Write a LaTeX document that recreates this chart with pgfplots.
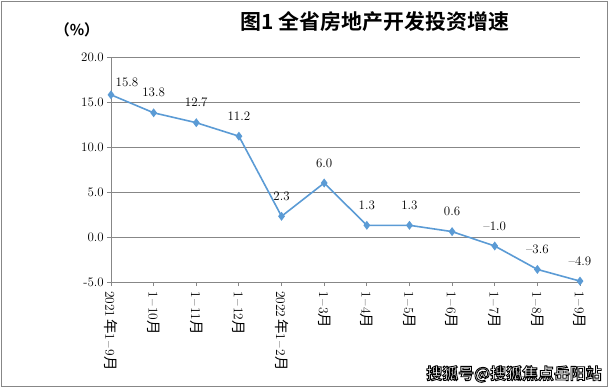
\documentclass[border=0pt]{standalone}
\usepackage{fontspec}
\usepackage{pgfplots}
\pgfplotsset{compat=1.18}
\usepackage{pgfplotstable}
\newfontfamily\cjk{Noto Sans CJK SC}
\newfontfamily\cjkbold{Noto Sans CJK SC Bold}
\definecolor{lineblue}{HTML}{5B9BD5}
\definecolor{gridc}{HTML}{878787}
\newcommand{\yue}{{\cjk\fontsize{14.5}{14.5}\selectfont 月}}
\newcommand{\nian}{\kern1.5bp{\cjk\fontsize{14.5}{14.5}\selectfont 年}}
\newcommand{\dd}{\kern1.5bp--\kern1.5bp}
\pgfplotstableread{
x y label
0 15.8 15.8
1 13.8 13.8
2 12.7 12.7
3 11.2 11.2
4 2.3 2.3
5 6.0 6.0
6 1.3 1.3
7 1.3 1.3
8 0.6 0.6
9 -1.0 --1.0
10 -3.6 --3.6
11 -4.9 --4.9
}\datatable
\begin{document}
\begin{tikzpicture}
\useasboundingbox (-111bp,-106bp) rectangle (501bp,282bp);
\draw[gridc, line width=1bp] (-109bp,-104bp) rectangle (496bp,280bp);
\begin{axis}[
  at={(0,0)}, anchor=south west,
  scale only axis, width=469bp, height=225bp,
  xmin=0, xmax=11, ymin=-5, ymax=20,
  axis lines=left,
  axis line style={-, gridc, line width=0.9bp},
  ymajorgrids,
  grid style={gridc, line width=0.9bp},
  xtick={0,...,11},
  xticklabels={
    {2021\nian 1\dd 9\yue},
    {1\dd 10\yue},
    {1\dd 11\yue},
    {1\dd 12\yue},
    {2022\nian 1\dd 2\yue},
    {1\dd 3\yue},
    {1\dd 4\yue},
    {1\dd 5\yue},
    {1\dd 6\yue},
    {1\dd 7\yue},
    {1\dd 8\yue},
    {1\dd 9\yue}},
  ytick={-5,0,5,10,15,20},
  yticklabels={-5.0,0.0,5.0,10.0,15.0,20.0},
  tick align=outside,
  major tick length=4bp,
  tick style={gridc, line width=0.9bp},
  xticklabel style={rotate=-90, anchor=west, inner sep=0pt, font=\fontsize{13.5}{13.5}\selectfont, xshift=5bp},
  yticklabel style={inner sep=0pt, font=\fontsize{13}{13}\selectfont, xshift=-3bp},
  clip=false,
]
\addplot[color=lineblue, line width=1.6bp, mark=diamond*, mark size=3.2bp,
  mark options={solid, fill=lineblue},
  nodes near coords, point meta=explicit symbolic,
  visualization depends on={\thisrow{x} \as \xx},
  every node near coord/.append style={text=black, anchor=base, inner sep=0pt,
    font=\fontsize{13}{13}\selectfont,
    xshift={ifthenelse(\xx==0,16,0)*1bp},
    yshift={ifthenelse(\xx==0,8,16)*1bp}},
] table[x=x, y=y, meta=label] {\datatable};
\end{axis}
\node[font=\cjkbold\fontsize{21}{21}\selectfont] at (264bp,260bp) {图1 全省房地产开发投资增速};
\node[font=\cjkbold\fontsize{15}{15}\selectfont] at (-34bp,252bp) {（\%）};
\node[font=\cjkbold\fontsize{16}{16}\selectfont] at (403bp,-92bp) {\color{white}\special{pdf:literal direct 0 0 0 RG 2 Tr 0.9 w}搜狐号@搜狐焦点岳阳站\special{pdf:literal direct 0 Tr}};
\end{tikzpicture}
\end{document}
